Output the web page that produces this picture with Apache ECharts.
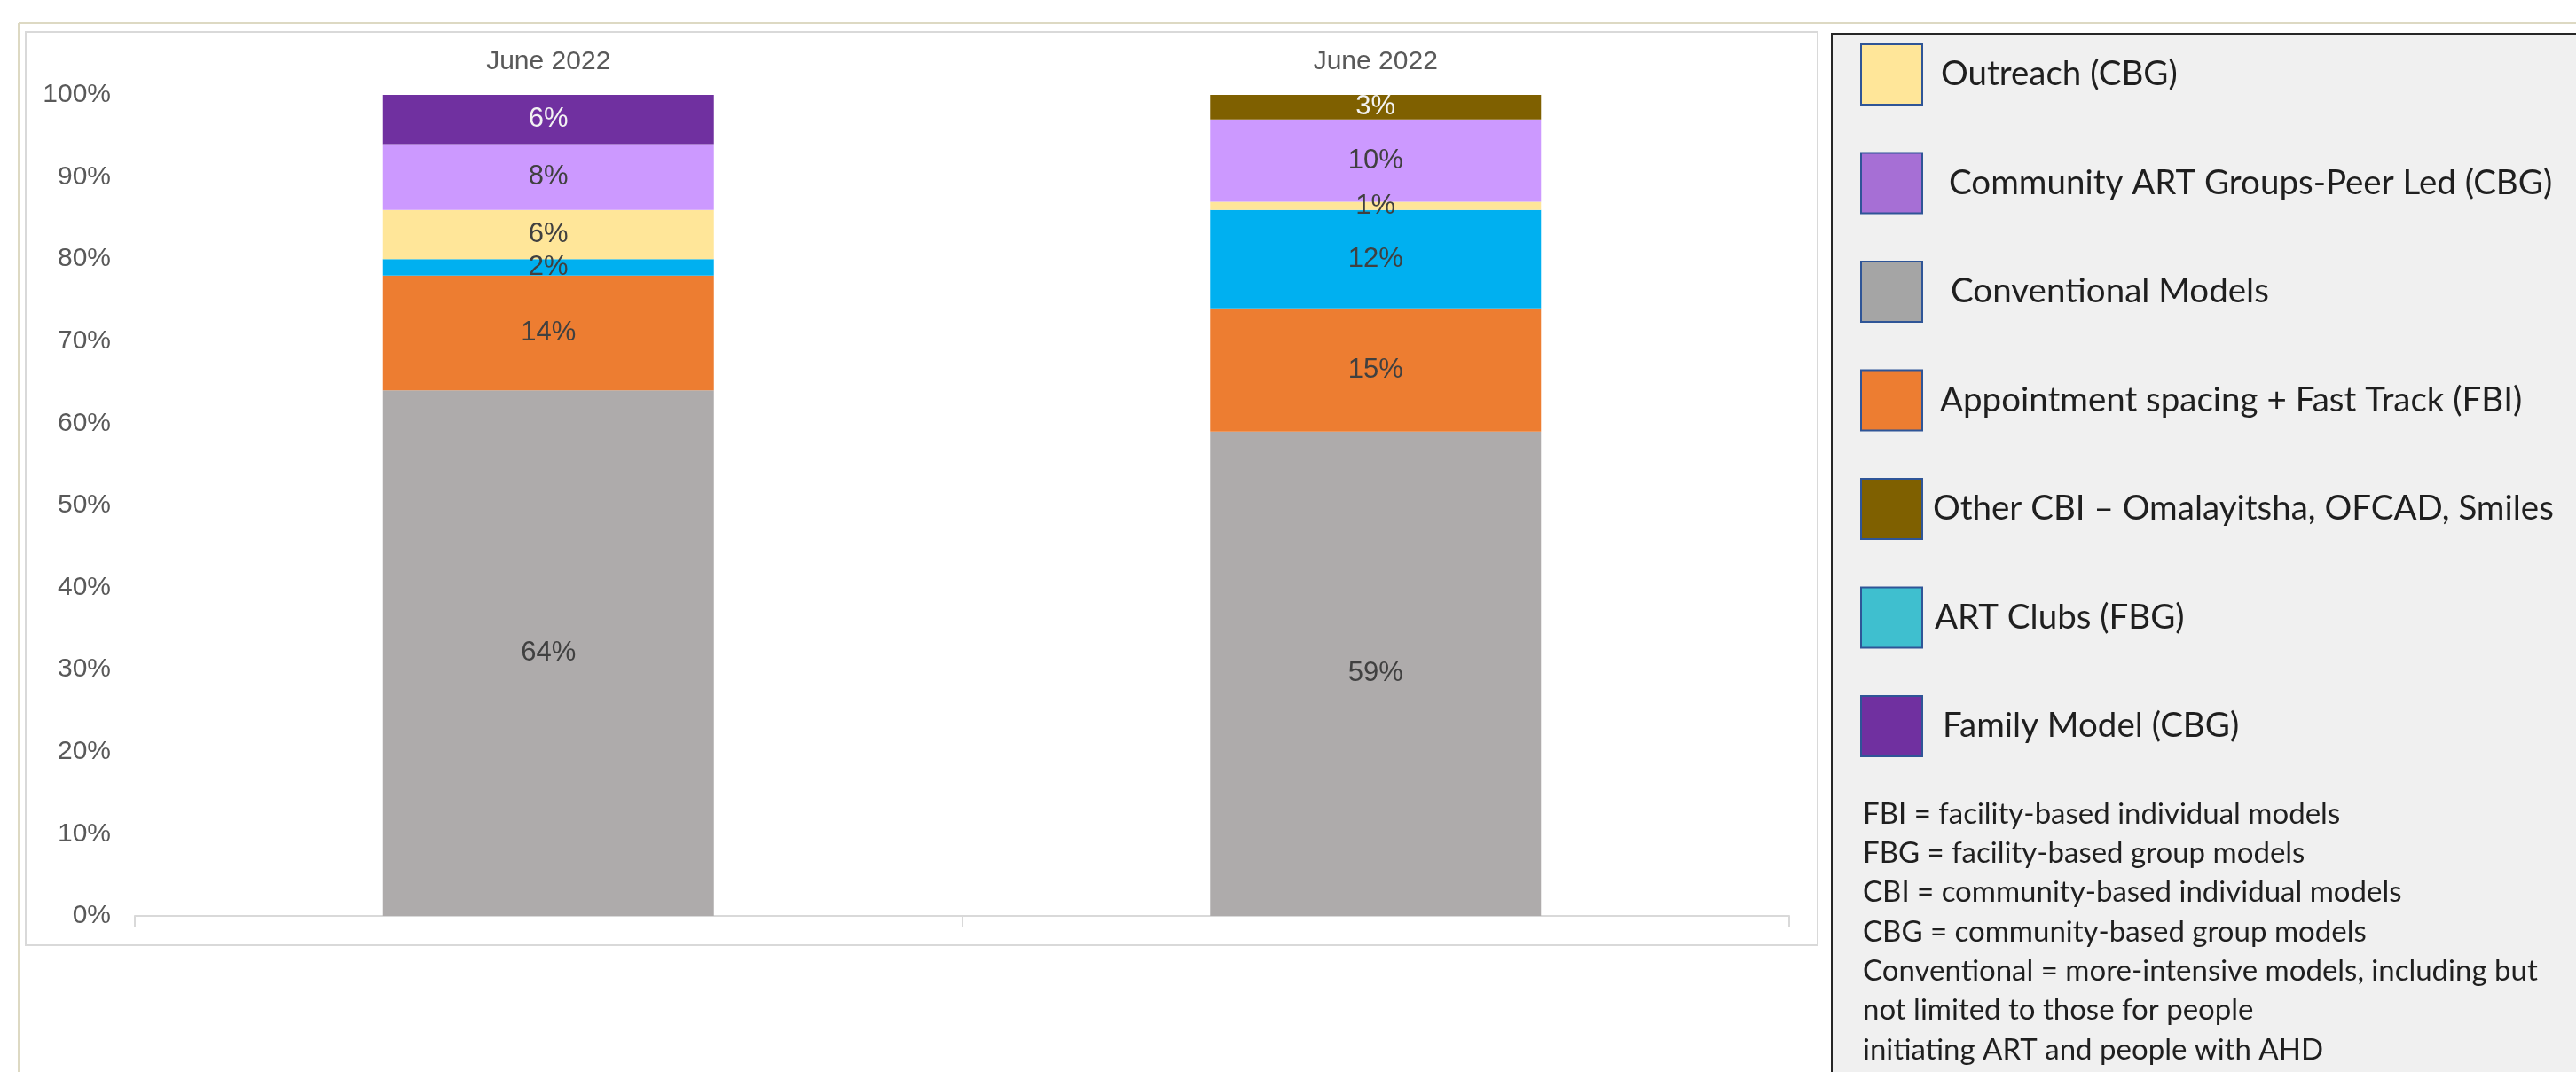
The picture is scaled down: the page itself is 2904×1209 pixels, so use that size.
<!DOCTYPE html>
<html>
<head>
<meta charset="utf-8">
<script src="https://cdn.jsdelivr.net/npm/echarts@6/dist/echarts.min.js"></script>
<style>
  html, body { margin: 0; padding: 0; background: #ffffff; }
  #chart { width: 2904px; height: 1209px; }
</style>
</head>
<body>
<div id="chart"></div>
<script>
// ---- data ----
const categories = ['June 2022', 'June 2022'];
const conventional = [64, 59];
const appointment = [14, 15];
const artClubs = [2, 12];
const outreach = [6, 1];
const community = [8, 10];
const family = [6, 0];
const otherCBI = [0, 3];
const yTicks = { min: 0, max: 100, interval: 10 };

const names = {
  conventional: 'Conventional Models',
  appointment: 'Appointment spacing + Fast Track (FBI)',
  artClubs: 'ART Clubs (FBG)',
  outreach: 'Outreach (CBG)',
  community: 'Community ART Groups-Peer Led (CBG)',
  family: 'Family Model (CBG)',
  otherCBI: 'Other CBI \u2013 Omalayitsha, OFCAD, Smiles'
};
const legendOrder = ['outreach', 'community', 'conventional', 'appointment', 'otherCBI', 'artClubs', 'family'];
const notes = [
  'FBI = facility-based individual models',
  'FBG = facility-based group models',
  'CBI = community-based individual models',
  'CBG = community-based group models',
  'Conventional = more-intensive models, including but',
  'not limited to those for people',
  'initiating ART and people with AHD'
];

// ---- styles ----
const barColors = {
  conventional: '#AEABAB', appointment: '#ED7D31', artClubs: '#00B0F0',
  outreach: '#FFE699', community: '#CC99FF', family: '#7030A0', otherCBI: '#7F6000'
};
const swatchColors = {
  conventional: '#A5A5A5', appointment: '#ED7D31', artClubs: '#3FBFCF',
  outreach: '#FFE699', community: '#A66FD5', family: '#7030A0', otherCBI: '#7F6000'
};
const legendTextIndent = {
  outreach: 16, community: 25, conventional: 27, appointment: 15, otherCBI: 7, artClubs: 9, family: 18
};
const labelColors = { family: '#F2F2F2', otherCBI: '#F2F2F2' };
const seriesData = { conventional, appointment, artClubs, outreach, community, family, otherCBI };
const stackOrder = ['conventional', 'appointment', 'artClubs', 'outreach', 'community', 'family', 'otherCBI'];

const series = stackOrder.map(k => ({
  name: names[k],
  type: 'bar',
  stack: 'total',
  barWidth: '40%',
  data: seriesData[k],
  itemStyle: { color: barColors[k] },
  label: {
    show: true,
    position: 'inside',
    fontFamily: 'Liberation Sans',
    fontSize: 31,
    color: labelColors[k] || '#404040',
    formatter: p => (p.value > 0 ? p.value + '%' : '')
  },
  emphasis: { disabled: true }
}));

const chart = echarts.init(document.getElementById('chart'), null, { renderer: 'canvas' });
chart.setOption({
  backgroundColor: '#ffffff',
  animation: false,
  grid: { left: 152, right: 887, top: 107, bottom: 176, containLabel: false },
  xAxis: [
    {
      type: 'category', data: categories, position: 'bottom',
      axisLine: { show: true, lineStyle: { color: '#D9D9D9', width: 2 } },
      axisTick: { show: true, length: 12, lineStyle: { color: '#D9D9D9', width: 2 } },
      axisLabel: { show: false }
    },
    {
      type: 'category', data: categories, position: 'top',
      axisLine: { show: false }, axisTick: { show: false },
      axisLabel: { show: true, margin: 22, fontFamily: 'Liberation Sans', fontSize: 30, color: '#595959' }
    }
  ],
  yAxis: {
    type: 'value', min: yTicks.min, max: yTicks.max, interval: yTicks.interval,
    axisLine: { show: false }, axisTick: { show: false }, splitLine: { show: false },
    axisLabel: { margin: 27, fontFamily: 'Liberation Sans', fontSize: 30, color: '#595959', formatter: '{value}%' }
  },
  legend: {
    orient: 'vertical', left: 2097, top: 49, padding: 0,
    itemWidth: 69, itemHeight: 68, itemGap: 52.5,
    icon: 'rect',
    selectedMode: false,
    textStyle: { fontFamily: 'Lato', fontSize: 38.5, color: '#1F1F1F' },
    data: legendOrder.map(k => ({
      name: names[k],
      itemStyle: { color: swatchColors[k], borderColor: '#2F5597', borderWidth: 2 },
      textStyle: { padding: [0, 0, 0, legendTextIndent[k]] }
    }))
  },
  graphic: [
    { type: 'line', z: -10, shape: { x1: 21, y1: 26, x2: 2904, y2: 26 }, style: { stroke: '#DDD9C3', lineWidth: 2 } },
    { type: 'line', z: -10, shape: { x1: 21, y1: 26, x2: 21, y2: 1209 }, style: { stroke: '#DDD9C3', lineWidth: 2 } },
    { type: 'rect', z: -10, shape: { x: 29, y: 36, width: 2020, height: 1030 }, style: { fill: '#ffffff', stroke: '#D9D9D9', lineWidth: 2 } },
    { type: 'rect', z: -10, shape: { x: 2065, y: 38, width: 900, height: 1250 }, style: { fill: '#F0F0F0', stroke: '#262626', lineWidth: 2 } },
    {
      type: 'text', left: 2100, top: 896, z: 10,
      style: { text: notes.join('\n'), fontFamily: 'Lato', fontSize: 33, lineHeight: 44.3, fill: '#1F1F1F' }
    }
  ],
  series: series
});
</script>
</body>
</html>
